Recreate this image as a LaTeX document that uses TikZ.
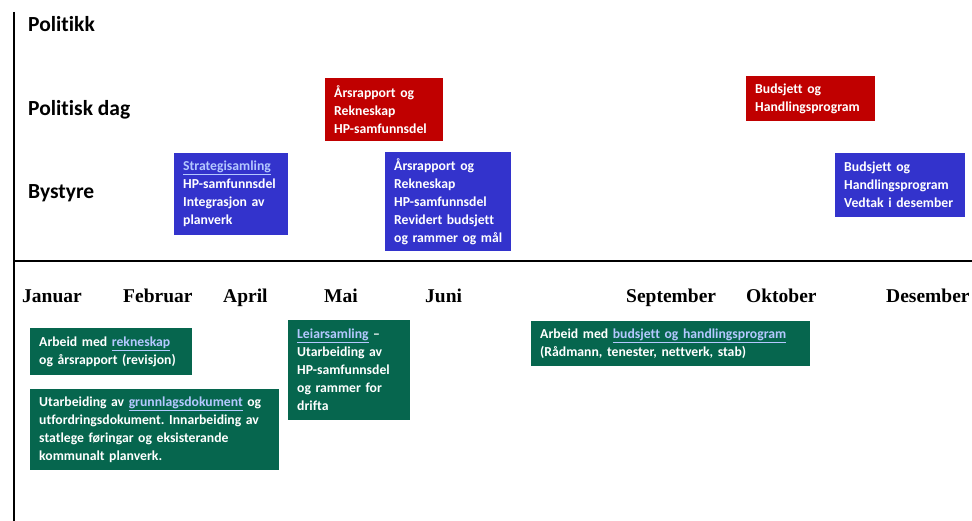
\documentclass[tikz,border=0pt]{standalone}
\usepackage{fontspec}
\setmainfont[Ligatures={NoCommon}]{Carlito}
\newfontfamily\tms{Liberation Serif}
\definecolor{polred}{RGB}{192,0,0}
\definecolor{bysblue}{RGB}{51,51,204}
\definecolor{admgreen}{RGB}{6,102,78}
\definecolor{linkc}{RGB}{180,200,255}
\newcommand{\lnk}[1]{{\color{linkc}\underline{#1}}}
\frenchspacing
\begin{document}
\begin{tikzpicture}[x=1pt,y=-1pt,
  boxst/.style={anchor=north west, inner xsep=9pt, inner ysep=0pt, align=left,
    text=white, font=\fontsize{13.7}{18}\selectfont\bfseries},
  head/.style={anchor=west, inner sep=0pt, font=\fontsize{21.5}{24}\selectfont\bfseries},
  month/.style={anchor=base west, inner sep=0pt, font=\tms\fontsize{19.5}{22}\selectfont\bfseries},
  axis/.style={line width=2.7pt, black}]
\useasboundingbox (0,0) rectangle (972,521);
% axes
\coordinate (vtop) at (14,12);
\coordinate (vbot) at (14,521);
\coordinate (hl) at (14,261);
\coordinate (hr) at (972,261);
\draw[axis] (vtop) -- (vbot);
\draw[axis] (hl) -- (hr);
% headings
\node[head] (pol) at (28,24) {Politikk};
\node[head] (pdag) at (28,110) {Politisk dag};
\node[head] (bys) at (28,193) {Bystyre};
% months
\node[month] (jan) at (22,303) {Januar};
\node[month] (feb) at (123,303) {Februar};
\node[month] (apr) at (223,303) {April};
\node[month] (mai) at (324,303) {Mai};
\node[month] (jun) at (425,303) {Juni};
\node[month] (sep) at (626,303) {September};
\node[month] (okt) at (746,303) {Oktober};
\node[month] (des) at (886,303) {Desember};
% politisk dag boxes
\node[boxst, fill=polred, text width=100pt, minimum height=63pt] (r1) at (325,78)
  {Årsrapport og\\Rekneskap\\HP-samfunnsdel};
\node[boxst, fill=polred, text width=111pt, minimum height=45pt] (r2) at (746,76)
  {Budsjett og\\Handlingsprogram};
% bystyre boxes
\node[boxst, fill=bysblue, text width=96pt, minimum height=82pt] (b1) at (174,153)
  {\lnk{Strategisamling}\\HP-samfunnsdel\\Integrasjon av\\planverk};
\node[boxst, fill=bysblue, text width=108pt, minimum height=99pt] (b2) at (385,152)
  {Årsrapport og\\Rekneskap\\HP-samfunnsdel\\\mbox{Revidert budsjett}\\\mbox{og rammer og mål}};
\node[boxst, fill=bysblue, text width=112pt, minimum height=64pt] (b3) at (835,153)
  {Budsjett og\\Handlingsprogram\\Vedtak i desember};
% administration boxes
\node[boxst, fill=admgreen, text width=144pt, minimum height=47pt] (g1) at (30,328)
  {Arbeid med \lnk{rekneskap}\\og årsrapport (revisjon)};
\node[boxst, fill=admgreen, text width=231pt, minimum height=81pt] (g2) at (30,389)
  {Utarbeiding av \lnk{grunnlagsdokument} og\\utfordringsdokument. Innarbeiding av\\statlege føringar og eksisterande\\kommunalt planverk.};
\node[boxst, fill=admgreen, text width=104pt, minimum height=100pt] (g3) at (288,320)
  {\lnk{Leiarsamling} –\\Utarbeiding av\\HP-samfunnsdel\\og rammer for\\drifta};
\node[boxst, fill=admgreen, text width=261pt, minimum height=45pt] (g4) at (531,321)
  {Arbeid med \lnk{budsjett og handlingsprogram}\\(Rådmann, tenester, nettverk, stab)};
\end{tikzpicture}
\end{document}
